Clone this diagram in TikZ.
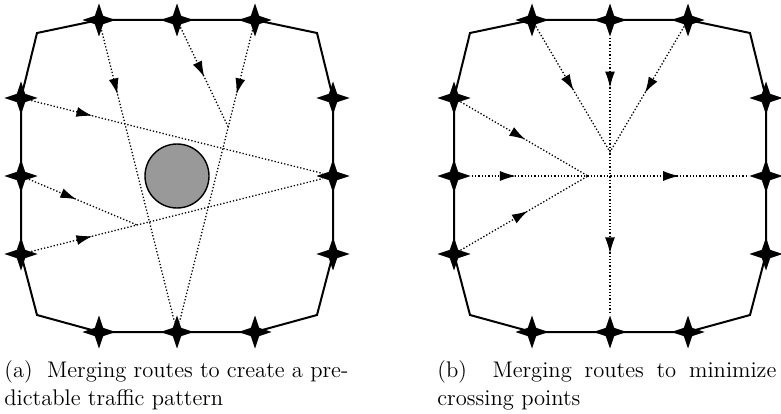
\documentclass[tikz,border=0pt]{standalone}
\usepackage{tikz}
\usetikzlibrary{arrows.meta, calc, shapes.geometric, decorations.markings}

\begin{document}
\begin{tikzpicture}[x=0.5pt, y=0.5pt, every node/.style={inner sep=0pt},
  junction/.style={star, star points=4, star point ratio=2.8, minimum size=16.5pt, fill=black},
  border/.style={line width=1pt},
  route/.style={densely dotted, line width=0.65pt, postaction={decorate}},
  tipat/.style={decoration={markings,
      mark=at position #1 with {\arrow{Latex[length=8pt, width=5pt]}}}},
  tipsat/.style 2 args={decoration={markings,
      mark=at position #1 with {\arrow{Latex[length=8pt, width=5pt]}},
      mark=at position #2 with {\arrow{Latex[length=8pt, width=5pt]}}}},
  obstacle/.style={circle, draw, line width=0.7pt, fill=black!40, minimum size=32pt},
  caption/.style={anchor=north west, align=justify, font=\fontsize{11.3}{14}\selectfont}]

  \useasboundingbox (0,0) rectangle (781,413);

  % (a) predictable pattern
  \begin{scope}[shift={(177,237)}]
    \node[junction] (a-t1) at (-78,156) {};
    \node[junction] (a-t2) at (0,156) {};
    \node[junction] (a-t3) at (78,156) {};
    \node[junction] (a-r1) at (156,78) {};
    \node[junction] (a-r2) at (156,0) {};
    \node[junction] (a-r3) at (156,-78) {};
    \node[junction] (a-b3) at (78,-156) {};
    \node[junction] (a-b2) at (0,-156) {};
    \node[junction] (a-b1) at (-78,-156) {};
    \node[junction] (a-l3) at (-156,-78) {};
    \node[junction] (a-l2) at (-156,0) {};
    \node[junction] (a-l1) at (-156,78) {};
    \draw[border] (a-t1.center) -- (a-t2.center) -- (a-t3.center) -- (140,143)
      -- (a-r1.center) -- (a-r2.center) -- (a-r3.center) -- (140,-139)
      -- (a-b3.center) -- (a-b2.center) -- (a-b1.center) -- (-140,-139)
      -- (a-l3.center) -- (a-l2.center) -- (a-l1.center) -- (-140,143) -- cycle;

    \coordinate (a-m1) at ($(a-t3)!0.343!(a-b2)$);
    \coordinate (a-m2) at ($(a-l3)!0.372!(a-r2)$);
    \draw[route, tipat=0.22] (a-t1) -- (a-b2);
    \draw[route, tipat=0.5] (a-t2) -- (a-m1);
    \draw[route, tipat=0.22] (a-t3) -- (a-b2);
    \draw[route, tipat=0.21] (a-l1) -- (a-r2);
    \draw[route, tipat=0.44] (a-l2) -- (a-m2);
    \draw[route, tipat=0.21] (a-l3) -- (a-r2);

    \node[obstacle] (a-obs) at (0,0) {};
  \end{scope}

  % (b) fewer crossings
  \begin{scope}[shift={(610,237)}]
    \node[junction] (b-t1) at (-78,156) {};
    \node[junction] (b-t2) at (0,156) {};
    \node[junction] (b-t3) at (78,156) {};
    \node[junction] (b-r1) at (156,78) {};
    \node[junction] (b-r2) at (156,0) {};
    \node[junction] (b-r3) at (156,-78) {};
    \node[junction] (b-b3) at (78,-156) {};
    \node[junction] (b-b2) at (0,-156) {};
    \node[junction] (b-b1) at (-78,-156) {};
    \node[junction] (b-l3) at (-156,-78) {};
    \node[junction] (b-l2) at (-156,0) {};
    \node[junction] (b-l1) at (-156,78) {};
    \draw[border] (b-t1.center) -- (b-t2.center) -- (b-t3.center) -- (140,143)
      -- (b-r1.center) -- (b-r2.center) -- (b-r3.center) -- (140,-139)
      -- (b-b3.center) -- (b-b2.center) -- (b-b1.center) -- (-140,-139)
      -- (b-l3.center) -- (b-l2.center) -- (b-l1.center) -- (-140,143) -- cycle;

    \coordinate (b-m1) at (0,24);
    \coordinate (b-m2) at (-22,0);
    \draw[route, tipat=0.51] (b-t1) -- (b-m1);
    \draw[route, tipsat={0.18}{0.78}] (b-t2) -- (b-b2);
    \draw[route, tipat=0.53] (b-t3) -- (b-m1);
    \draw[route, tipat=0.51] (b-l1) -- (b-m2);
    \draw[route, tipsat={0.16}{0.75}] (b-l2) -- (b-r2);
    \draw[route, tipat=0.53] (b-l3) -- (b-m2);
  \end{scope}

  \node[caption, text width=172pt] (cap-a) at (4,53)
    {(a)\ \ Merging routes to create a pre-\linebreak dictable traffic pattern};
  \node[caption, text width=169.5pt] (cap-b) at (437,53)
    {(b)\ \ Merging routes to minimize\linebreak crossing points};
\end{tikzpicture}
\end{document}
